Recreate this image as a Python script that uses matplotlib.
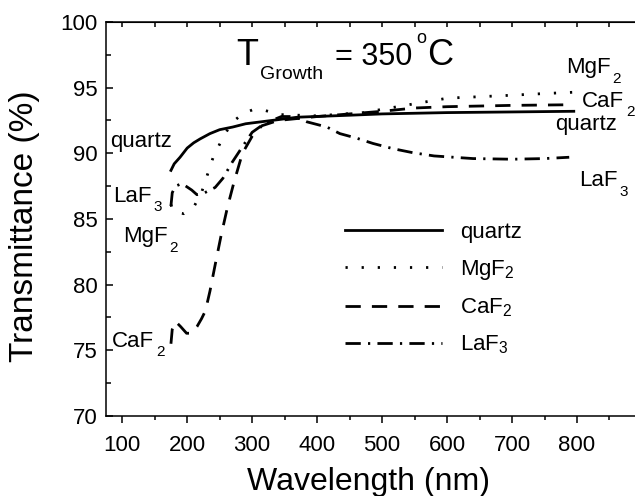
import matplotlib
matplotlib.use("Agg")
import matplotlib.pyplot as plt
from matplotlib.ticker import MultipleLocator

plt.rcParams["font.family"] = ["Liberation Sans", "DejaVu Sans"]
plt.rcParams["mathtext.fontset"] = "custom"
plt.rcParams["mathtext.rm"] = "Liberation Sans"

# transmittance spectra (wavelength in nm, transmittance in %)
wl_quartz = [175, 180, 189, 200, 210, 220, 235, 250, 270, 290, 330, 370, 450, 500, 600, 700, 795]
t_quartz = [88.7, 89.2, 89.7, 90.4, 90.8, 91.1, 91.5, 91.8, 92.0, 92.25, 92.5, 92.75, 92.9, 93.0, 93.1, 93.15, 93.2]

wl_mgf2 = [175, 178, 185, 195, 210, 222, 232, 240, 253, 268, 285, 300, 317, 343, 400, 471, 553, 601, 690, 750, 795]
t_mgf2 = [86.1, 85.6, 85.5, 85.4, 85.9, 87.0, 88.5, 89.7, 91.0, 92.3, 93.0, 93.3, 93.3, 92.95, 92.85, 93.1, 93.8, 94.2, 94.4, 94.55, 94.65]

wl_caf2 = [175, 177, 182, 190, 199, 207, 215, 222, 228, 235, 243, 252, 262, 272, 285, 300, 315, 340, 400, 450, 500, 550, 600, 700, 795]
t_caf2 = [75.5, 76.6, 77.2, 76.8, 76.3, 76.3, 76.8, 77.4, 78.0, 79.5, 81.5, 83.7, 85.9, 87.8, 90.0, 91.3, 92.1, 92.5, 92.8, 93.0, 93.2, 93.45, 93.55, 93.65, 93.7]

wl_laf3 = [175, 177, 182, 192, 207, 215, 227, 243, 255, 269, 285, 300, 320, 345, 365, 384, 415, 435, 461, 486, 517, 547, 580, 640, 700, 750, 788]
t_laf3 = [86.0, 87.0, 87.5, 87.7, 87.2, 86.85, 87.0, 87.4, 88.1, 89.3, 90.5, 91.6, 92.3, 92.8, 92.8, 92.4, 92.0, 91.5, 91.15, 90.75, 90.35, 90.05, 89.8, 89.6, 89.55, 89.6, 89.7]

x_ticks = [100, 200, 300, 400, 500, 600, 700, 800]
y_ticks = [70, 75, 80, 85, 90, 95, 100]

fig = plt.figure(figsize=(6.35, 4.96), dpi=100)
ax = fig.add_axes([0.1669, 0.1613, 0.8441, 0.7944])

lw = 2.0
ax.plot(wl_quartz, t_quartz, color="black", lw=lw, ls="-", label="quartz")
ax.plot(wl_mgf2, t_mgf2, color="black", lw=lw, ls=(0, (0.8, 5.0)), label=r"MgF$_\mathregular{2}$")
ax.plot(wl_caf2, t_caf2, color="black", lw=lw, ls=(0, (5.5, 4.0)), label=r"CaF$_\mathregular{2}$")
ax.plot(wl_laf3, t_laf3, color="black", lw=lw, ls=(0, (5.5, 2.6, 0.8, 2.6)), label=r"LaF$_\mathregular{3}$")

ax.set_xlim(75, 900)
ax.set_ylim(70, 100)
ax.set_xticks(x_ticks)
ax.set_yticks(y_ticks)
ax.xaxis.set_minor_locator(MultipleLocator(50))
ax.yaxis.set_minor_locator(MultipleLocator(2.5))
ax.tick_params(axis="x", which="major", direction="out", length=5, width=1.1, labelsize=16, pad=9)
ax.tick_params(axis="x", which="minor", direction="out", length=3, width=1.1)
ax.tick_params(axis="y", which="major", direction="in", length=5, width=1.1, right=True, labelsize=16, pad=6)
ax.tick_params(axis="y", which="minor", direction="in", length=3.5, width=1.1, right=True)
for s in ax.spines.values():
    s.set_linewidth(1.1)

top = ax.secondary_xaxis("top")
top.set_xticks(x_ticks)
top.xaxis.set_minor_locator(MultipleLocator(50))
top.tick_params(which="both", direction="in", length=3.5, width=1.1, labeltop=False)

ax.set_xlabel("Wavelength (nm)", fontsize=23)
ax.xaxis.set_label_coords(0.489, -0.13)
ax.set_ylabel("Transmittance (%)", fontsize=24)
ax.yaxis.set_label_coords(-0.123, 0.482)


def label(x, y, main, sub=None, size=16, subsize=11, dx=1.5, dy=-3.2):
    t = ax.text(x, y, main, fontsize=size, va="baseline", ha="left")
    if sub:
        ax.annotate(sub, xy=(1, 0), xycoords=t, xytext=(dx, dy),
                    textcoords="offset points", fontsize=subsize, va="baseline", ha="left")
    return t


# curve labels, left side
label(81, 90.48, "quartz")
label(86, 86.29, "LaF", "3")
label(101, 83.24, "MgF", "2")
label(84, 75.25, "CaF", "2")
# curve labels, right side
label(783, 96.1, "MgF", "2")
label(808, 93.53, "CaF", "2")
label(767, 91.75, "quartz")
label(803, 87.5, "LaF", "3")

# growth temperature
label(275.5, 96.73, "T", "Growth", size=26, subsize=14, dx=1.0, dy=-4.5)
ax.text(428, 96.73, "= 350", fontsize=22, va="baseline")
ax.text(553, 98.4, "o", fontsize=13, va="baseline")
ax.text(570, 96.73, "C", fontsize=26, va="baseline")

ax.legend(loc="upper left", bbox_to_anchor=(0.446, 0.492), frameon=False, fontsize=16,
          handlelength=4.37, handletextpad=0.81, labelspacing=0.66, borderpad=0, borderaxespad=0)

fig.savefig("out.png", dpi=100)
